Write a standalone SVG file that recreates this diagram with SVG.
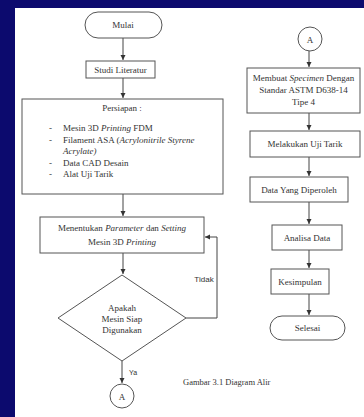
<svg xmlns="http://www.w3.org/2000/svg" width="364" height="417" viewBox="0 0 364 417">
<defs>
<marker id="ah" markerWidth="6" markerHeight="6" refX="5" refY="3" orient="auto" markerUnits="userSpaceOnUse">
<path d="M0,0.5 L5,3 L0,5.5 Z" fill="#333"/>
</marker>
<style>
.b{fill:#fff;stroke:#555;stroke-width:1}
.t{font-family:"Liberation Serif","Times New Roman",serif;font-size:9px;fill:#333}
.c{text-anchor:middle}
.i{font-style:italic}
.l{fill:none;stroke:#444;stroke-width:1}
.a{fill:none;stroke:#444;stroke-width:1;marker-end:url(#ah)}
</style>
</defs>
<rect x="0" y="0" width="364" height="417" fill="#0c0a6e"/>
<rect x="15" y="8" width="349" height="409" fill="#fff"/>
<g id="connectors">
<line class="a" x1="123" y1="38" x2="123" y2="60"/>
<line class="a" x1="123" y1="78" x2="123" y2="98"/>
<line class="a" x1="123" y1="194" x2="123" y2="216"/>
<line class="a" x1="123" y1="253" x2="123" y2="274"/>
<line class="a" x1="122" y1="361" x2="122" y2="383"/>
<polyline class="a" points="186,318 217,318 217,237 205,237"/>
<line class="a" x1="309" y1="51" x2="309" y2="67"/>
<line class="a" x1="309" y1="113" x2="309" y2="130"/>
<line class="a" x1="309" y1="157" x2="309" y2="176"/>
<line class="a" x1="309" y1="202" x2="309" y2="224"/>
<line class="a" x1="309" y1="250" x2="309" y2="268"/>
<line class="a" x1="309" y1="294" x2="309" y2="315"/>
<text x="129" y="375" style="font-family:'Liberation Sans',Arial,sans-serif;font-size:7px;fill:#333">Ya</text>
<text x="204" y="282" class="c" style="font-family:'Liberation Sans',Arial,sans-serif;font-size:8px;fill:#333">Tidak</text>
</g>
<g id="mulai">
<rect class="b" x="85" y="12" width="77" height="26" rx="13"/>
<text class="t c" x="123" y="28">Mulai</text>
</g>
<g id="studi">
<rect class="b" x="86" y="61" width="69" height="17"/>
<text class="t c" x="120.5" y="72.5">Studi Literatur</text>
</g>
<g id="persiapan">
<rect class="b" x="22" y="99" width="201" height="95"/>
<text class="t c" x="122" y="111">Persiapan :</text>
<text class="t" x="49" y="131">-</text>
<text class="t" x="63" y="131">Mesin 3D <tspan class="i">Printing</tspan> FDM</text>
<text class="t" x="49" y="142.5">-</text>
<text class="t" x="63" y="142.5">Filament ASA (<tspan class="i">Acrylonitrile Styrene</tspan></text>
<text class="t i" x="63" y="154">Acrylate)</text>
<text class="t" x="49" y="165.5">-</text>
<text class="t" x="63" y="165.5">Data CAD Desain</text>
<text class="t" x="49" y="177">-</text>
<text class="t" x="63" y="177">Alat Uji Tarik</text>
</g>
<g id="menentukan">
<rect class="b" x="40" y="217" width="164" height="36"/>
<text class="t c" x="122" y="231">Menentukan <tspan class="i">Parameter</tspan> dan <tspan class="i">Setting</tspan></text>
<text class="t c" x="122" y="245">Mesin 3D <tspan class="i">Printing</tspan></text>
</g>
<g id="apakah">
<polygon class="b" points="122,275 186,318 122,361 58,318"/>
<text class="t c" x="122" y="311">Apakah</text>
<text class="t c" x="122" y="322">Mesin Siap</text>
<text class="t c" x="122" y="333">Digunakan</text>
</g>
<g id="a1">
<circle class="b" cx="122" cy="396" r="12"/>
<text class="t c" x="122" y="399.5">A</text>
</g>
<g id="a2">
<circle class="b" cx="310" cy="39" r="12"/>
<text class="t c" x="310" y="42.5">A</text>
</g>
<g id="membuat">
<rect class="b" x="247" y="68" width="113" height="45"/>
<text class="t c" x="303.5" y="81">Membuat <tspan class="i">Specimen</tspan> Dengan</text>
<text class="t c" x="303.5" y="93">Standar ASTM D638-14</text>
<text class="t c" x="303.5" y="105">Tipe 4</text>
</g>
<g id="melakukan">
<rect class="b" x="250" y="131" width="110" height="26"/>
<text class="t c" x="305" y="147">Melakukan Uji Tarik</text>
</g>
<g id="data">
<rect class="b" x="250" y="177" width="98" height="25"/>
<text class="t c" x="299" y="192.5">Data Yang Diperoleh</text>
</g>
<g id="analisa">
<rect class="b" x="272" y="225" width="70" height="25"/>
<text class="t c" x="307" y="240.5">Analisa Data</text>
</g>
<g id="kesimpulan">
<rect class="b" x="271" y="269" width="58" height="25"/>
<text class="t c" x="300" y="284.5">Kesimpulan</text>
</g>
<g id="selesai">
<rect class="b" x="270" y="316" width="75" height="24" rx="12"/>
<text class="t c" x="307.5" y="331">Selesai</text>
</g>
<text class="t" x="183" y="385" style="font-size:8.5px">Gambar 3.1 Diagram Alir</text>
</svg>
